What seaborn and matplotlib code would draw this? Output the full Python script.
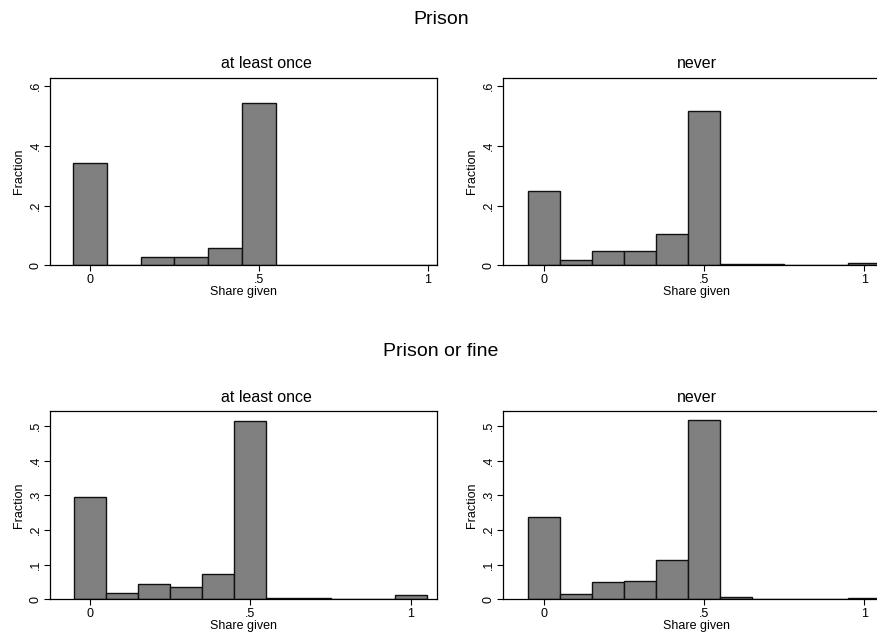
import numpy as np
import pandas as pd
import matplotlib
matplotlib.use("Agg")
import matplotlib.pyplot as plt
import seaborn as sns

# bin centres of "Share given" (bin width 0.1)
share_bins = [0.0, 0.1, 0.2, 0.3, 0.4, 0.5, 0.6, 0.7, 0.8, 0.9, 1.0]

# fractions
prison_once = [0.343, 0.0, 0.0286, 0.0286, 0.057, 0.543, 0.0, 0.0, 0.0, 0.0, 0.0]
prison_never = [0.248, 0.017, 0.049, 0.049, 0.104, 0.517, 0.006, 0.003, 0.001, 0.001, 0.007]
fine_once = [0.294, 0.019, 0.043, 0.035, 0.072, 0.515, 0.005, 0.005, 0.0, 0.0, 0.013]
fine_never = [0.236, 0.015, 0.051, 0.054, 0.112, 0.518, 0.007, 0.002, 0.001, 0.001, 0.004]

group_titles = ["Prison", "Prison or fine"]
panel_titles = ["at least once", "never"]

top_yticks = [0, 0.2, 0.4, 0.6]
top_ylabels = ["0", ".2", ".4", ".6"]
bot_yticks = [0, 0.1, 0.2, 0.3, 0.4, 0.5]
bot_ylabels = ["0", ".1", ".2", ".3", ".4", ".5"]
xticks = [0, 0.5, 1]
xlabels = ["0", ".5", "1"]

sns.set_theme(style="white")
plt.rcParams["font.family"] = ["Liberation Sans", "DejaVu Sans"]
plt.rcParams["text.color"] = "black"
plt.rcParams["axes.labelcolor"] = "black"

fig = plt.figure(figsize=(8.78, 6.37), dpi=100)
W, H = 878, 637


def add_axes_px(left, right, top, bottom):
    return fig.add_axes([left / W, 1 - bottom / H, (right - left) / W, (bottom - top) / H])


# bin edges at +-0.05 around each centre
edges = [round(-0.05 + 0.1 * k, 2) for k in range(12)]

panels = [
    # values, axes box (px), xlim, ylim, yticks, ylabels, title centre x
    (prison_once, (50, 437, 77.7, 265.3), (-0.118, 1.027), (0, 0.628), top_yticks, top_ylabels, 266),
    (prison_never, (503, 890, 77.7, 265.3), (-0.128, 1.081), (0, 0.628), top_yticks, top_ylabels, 697),
    (fine_once, (50, 437, 411.3, 599.3), (-0.125, 1.082), (0, 0.542), bot_yticks, bot_ylabels, 266),
    (fine_never, (503, 890, 411.3, 599.3), (-0.128, 1.081), (0, 0.542), bot_yticks, bot_ylabels, 697),
]

for i, (vals, box, xl, yl, yt, ylab, tx) in enumerate(panels):
    ax = add_axes_px(*box)
    df = pd.DataFrame({"share": share_bins, "frac": vals})
    sns.histplot(data=df, x="share", weights="frac", bins=edges, stat="count",
                 color="#808080", edgecolor="#111111", linewidth=1.0, alpha=1.0, ax=ax)
    ax.set_xlim(*xl)
    ax.set_ylim(*yl)
    ax.set_xticks(xticks)
    ax.set_xticklabels(xlabels)
    ax.set_yticks(yt)
    ax.set_yticklabels(ylab, rotation=90, va="center")
    ax.tick_params(axis="both", direction="out", length=4, width=0.8, colors="black",
                   labelsize=9, left=True, bottom=True, pad=2)
    for sp in ax.spines.values():
        sp.set_visible(True)
        sp.set_color("black")
        sp.set_linewidth(0.9)
    ax.set_xlabel("Share given", fontsize=9, labelpad=0)
    ax.set_ylabel("Fraction", fontsize=9, labelpad=3)
    # panel title
    fig.text(tx / W, 1 - (box[2] - 14) / H, panel_titles[i % 2], ha="center", va="center", fontsize=11.5)

fig.text(441 / W, 1 - 20 / H, group_titles[0], ha="center", va="center", fontsize=14)
fig.text(441 / W, 1 - 352 / H, group_titles[1], ha="center", va="center", fontsize=14)

fig.savefig("out.png", dpi=100, facecolor="white")
